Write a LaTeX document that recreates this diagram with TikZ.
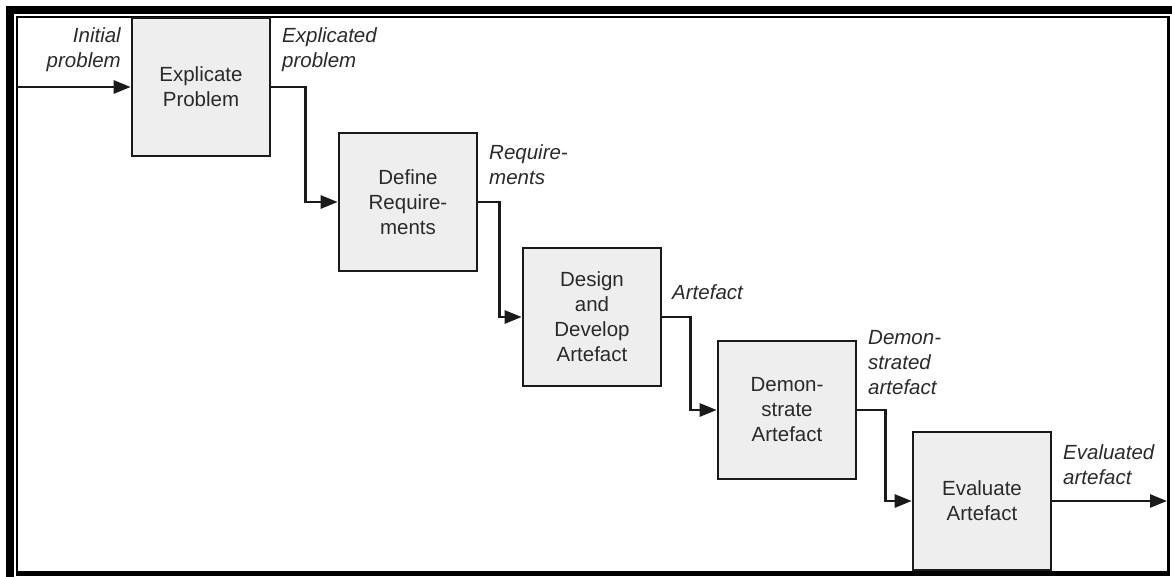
\documentclass[tikz,border=0pt]{standalone}
\usepackage{fontspec}
\setmainfont{Liberation Sans}
\usetikzlibrary{arrows.meta}
\definecolor{boxfill}{HTML}{EEEEEE}
\definecolor{inkline}{HTML}{1A1A1A}
\definecolor{inktext}{HTML}{2A2A2A}
\tikzset{
  stepbox/.style={draw=inkline, line width=2.6pt, fill=boxfill,
    minimum width=138pt, minimum height=138pt, inner sep=0pt,
    align=center, text=inktext, font=\fontsize{20.5}{25}\selectfont},
  flowlabel/.style={inner sep=0pt, text=inktext,
    font=\fontsize{20.5}{25}\selectfont\itshape},
  flow/.style={draw=inkline, line width=2.6pt,
    -{Triangle[length=17pt,width=13pt]}},
}
\begin{document}
\begin{tikzpicture}[x=1pt,y=-1pt]
\useasboundingbox (0,0) rectangle (1172,577);
% double frame
\fill[black] (6,6) rectangle (1172,14);
\fill[black] (6,6) rectangle (14,577);
\draw[black, line width=2pt] (16,17) -- (1168,17);
\draw[black, line width=2pt] (17,16) -- (17,572);
\fill[black] (1167,16) rectangle (1170,576);
\fill[black] (16,571) rectangle (1170,576);

% process steps
\node[stepbox] (b1) at (201,87)  {Explicate\\Problem};
\node[stepbox] (b2) at (408,202) {Define\\Require-\\ments};
\node[stepbox] (b3) at (592,317) {Design\\and\\Develop\\Artefact};
\node[stepbox] (b4) at (787,410) {Demon-\\strate\\Artefact};
\node[stepbox] (b5) at (982,501) {Evaluate\\Artefact};

% open ends of the chain
\coordinate (in)  at (17,87);
\coordinate (out) at (1167,501);

% connectors
\draw[flow] (in) -- (b1.west);
\draw[flow] (b1.east) -- ++(34,0) |- (b2.west);
\draw[flow] (b2.east) -- ++(21,0) |- (b3.west);
\draw[flow] (b3.east) -- ++(28,0) |- (b4.west);
\draw[flow] (b4.east) -- ++(28,0) |- (b5.west);
\draw[flow] (b5.east) -- (out);

% intermediate products
\node[flowlabel, anchor=east, align=right] (l0) at (121,50)  {Initial\\problem};
\node[flowlabel, anchor=west, align=left]  (l1) at (282,50)  {Explicated\\problem};
\node[flowlabel, anchor=west, align=left]  (l2) at (489,165) {Require-\\ments};
\node[flowlabel, anchor=west, align=left]  (l3) at (672,292) {Artefact};
\node[flowlabel, anchor=west, align=left]  (l4) at (868,363) {Demon-\\strated\\artefact};
\node[flowlabel, anchor=west, align=left]  (l5) at (1063,465) {Evaluated\\artefact};
\end{tikzpicture}
\end{document}
